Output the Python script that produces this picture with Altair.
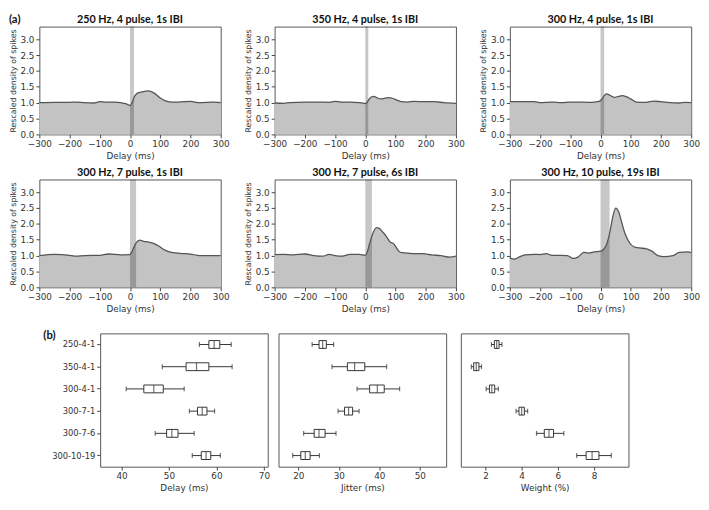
import altair as alt
import pandas as pd

# ---------------- data: panel (a) ----------------
TITLES = ["250 Hz, 4 pulse, 1s IBI", "350 Hz, 4 pulse, 1s IBI", "300 Hz, 4 pulse, 1s IBI",
          "300 Hz, 7 pulse, 1s IBI", "300 Hz, 7 pulse, 6s IBI", "300 Hz, 10 pulse, 19s IBI"]
BAND_END = [13, 10, 12, 20, 22, 30]

X1 = [-300, -250, -200, -180, -150, -120, -100, -80, -50, -30, -15, -5, 0, 5, 10, 15, 25, 40, 60, 80, 100, 120, 140, 160, 200, 230, 260, 280, 300]
Y1 = [1.00, 1.01, 1.01, 1.02, 1.00, 0.99, 1.03, 1.02, 1.02, 1.00, 0.97, 0.93, 0.91, 0.96, 1.08, 1.20, 1.30, 1.34, 1.37, 1.30, 1.15, 1.05, 1.02, 1.02, 1.04, 1.00, 1.01, 1.02, 1.00]

X2 = [-300, -270, -250, -200, -150, -120, -100, -80, -50, -20, -5, 0, 5, 12, 20, 28, 40, 50, 60, 75, 90, 105, 120, 140, 160, 200, 230, 260, 300]
Y2 = [0.99, 0.98, 1.00, 1.02, 1.02, 1.01, 1.04, 1.02, 1.02, 1.00, 0.98, 0.97, 1.00, 1.10, 1.18, 1.20, 1.15, 1.12, 1.13, 1.16, 1.14, 1.08, 1.03, 1.02, 1.04, 1.03, 1.03, 1.00, 0.98]

X3 = [-300, -250, -220, -200, -160, -130, -100, -70, -40, -20, -5, 0, 5, 12, 20, 30, 45, 60, 72, 85, 100, 120, 150, 175, 200, 230, 260, 280, 300]
Y3 = [1.03, 1.03, 1.03, 1.00, 1.02, 1.00, 1.02, 1.02, 1.01, 1.02, 1.04, 1.07, 1.12, 1.22, 1.28, 1.24, 1.17, 1.20, 1.22, 1.19, 1.12, 1.02, 1.01, 1.05, 1.03, 1.00, 0.99, 1.01, 1.00]

X4 = [-300, -250, -200, -180, -150, -100, -70, -30, -5, 0, 5, 12, 20, 32, 45, 60, 80, 95, 110, 130, 165, 200, 230, 260, 300]
Y4 = [1.00, 1.04, 1.01, 0.98, 1.00, 1.01, 1.05, 1.02, 1.03, 1.04, 1.10, 1.25, 1.40, 1.49, 1.45, 1.43, 1.38, 1.30, 1.20, 1.12, 1.07, 1.05, 1.00, 1.00, 1.00]

X5 = [-300, -270, -240, -200, -170, -140, -120, -100, -80, -50, -20, 0, 5, 15, 25, 37, 47, 60, 70, 80, 95, 110, 120, 140, 160, 190, 220, 250, 280, 300]
Y5 = [1.03, 1.04, 1.02, 1.05, 1.00, 0.98, 1.04, 1.00, 0.98, 1.04, 1.04, 1.01, 1.08, 1.40, 1.70, 1.88, 1.85, 1.72, 1.60, 1.45, 1.36, 1.15, 1.09, 1.08, 1.06, 1.06, 1.02, 1.00, 0.95, 0.98]

X6 = [-300, -285, -270, -250, -220, -200, -180, -160, -130, -110, -90, -75, -55, -40, -20, 0, 10, 20, 30, 40, 50, 60, 70, 80, 95, 110, 130, 150, 170, 190, 210, 240, 260, 290, 300]
Y6 = [0.93, 0.89, 0.95, 1.02, 1.04, 1.03, 1.06, 1.01, 1.01, 1.00, 0.91, 0.95, 1.10, 1.08, 1.12, 1.14, 1.20, 1.35, 1.70, 2.20, 2.50, 2.38, 2.05, 1.72, 1.42, 1.28, 1.24, 1.22, 1.14, 1.00, 0.97, 1.00, 1.10, 1.12, 1.09]

CURVES_X = [X1, X2, X3, X4, X5, X6]
CURVES_Y = [Y1, Y2, Y3, Y4, Y5, Y6]
A_XTICKS = [-300, -200, -100, 0, 100, 200, 300]
A_YTICKS = [0.0, 0.5, 1.0, 1.5, 2.0, 2.5, 3.0]

# ---------------- data: panel (b) ----------------
CONDS = ["250-4-1", "350-4-1", "300-4-1", "300-7-1", "300-7-6", "300-10-19"]
DELAY_LO = [56.4, 48.6, 41.0, 54.3, 47.1, 54.9]
DELAY_Q1 = [58.4, 53.6, 44.7, 56.0, 49.5, 56.8]
DELAY_MED = [59.5, 55.8, 46.8, 57.0, 50.6, 57.8]
DELAY_Q3 = [60.7, 58.4, 48.8, 58.0, 51.9, 58.8]
DELAY_HI = [63.1, 63.3, 53.2, 59.6, 55.3, 60.8]

JIT_LO = [23.4, 28.3, 34.5, 29.8, 21.3, 18.6]
JIT_Q1 = [25.1, 32.1, 37.6, 31.4, 23.9, 20.6]
JIT_MED = [26.0, 33.9, 39.5, 32.4, 25.1, 21.7]
JIT_Q3 = [26.9, 36.4, 41.2, 33.4, 26.6, 22.9]
JIT_HI = [28.7, 41.8, 45.0, 35.0, 29.3, 25.2]

W_LO = [2.33, 1.22, 2.04, 3.69, 4.82, 7.04]
W_Q1 = [2.49, 1.35, 2.22, 3.85, 5.25, 7.56]
W_MED = [2.62, 1.49, 2.35, 4.00, 5.51, 7.89]
W_Q3 = [2.75, 1.64, 2.51, 4.15, 5.76, 8.27]
W_HI = [2.91, 1.78, 2.71, 4.33, 6.33, 8.95]

INK = "#333333"
PW, PH = 185, 110
BH = 136


def label_text(txt, x, y, size=12, align="left"):
    return alt.Chart(pd.DataFrame({"t": [txt]})).mark_text(
        align=align, baseline="alphabetic", fontSize=size, fontWeight="bold", font="Lato", color="#111"
    ).encode(text="t:N", x=alt.value(x), y=alt.value(y))


def density_panel(i, label=None):
    df = pd.DataFrame({"delay": CURVES_X[i], "density": CURVES_Y[i]})
    band = pd.DataFrame({"delay": [0], "end": [BAND_END[i]]})
    xsc = alt.Scale(domain=[-300, 300], nice=False)
    ysc = alt.Scale(domain=[0, 3.4], nice=False)
    xax = alt.Axis(title="Delay (ms)", values=A_XTICKS, format="d", labelFlush=False, labelOverlap=False)
    yax = alt.Axis(title="Rescaled density of spikes", values=A_YTICKS, format=".1f",
                   titleFontSize=8, labelOverlap=False, titleOpacity=0 if i == 5 else 1)
    xenc = alt.X("delay:Q", scale=xsc, axis=xax)
    yenc = alt.Y("density:Q", scale=ysc, axis=yax)
    base = alt.Chart(df).encode(x=xenc, y=yenc)
    area = base.mark_area(color="#c3c3c3", interpolate="monotone")
    line = base.mark_line(color="#555555", strokeWidth=1.3, interpolate="monotone")
    rect = alt.Chart(band).mark_rect(color="black", opacity=0.22).encode(x=xenc, x2="end:Q")
    layers = [area, rect, line, label_text(TITLES[i], PW / 2, -4, 11, "center")]
    if label:
        layers.append(label_text(label, -31, -4, 11.5))
    return alt.layer(*layers).properties(width=PW, height=PH)


def box_panel(lo, q1, med, q3, hi, domain, ticks, xtitle, show_y, label=None):
    df = pd.DataFrame({"cond": CONDS, "lo": lo, "q1": q1, "med": med, "q3": q3, "hi": hi})
    ysc = alt.Scale(type="band", domain=CONDS, paddingInner=0, paddingOuter=0)
    yax = alt.Axis(title=None, labelOverlap=False, labelFontSize=8.5) if show_y else None
    xsc = alt.Scale(domain=domain, nice=False, zero=False)
    xax = alt.Axis(title=xtitle, values=ticks, labelFlush=False)
    yenc = alt.Y("cond:N", scale=ysc, axis=yax)
    base = alt.Chart(df)
    whisk = base.mark_rule(color=INK, strokeWidth=1).encode(
        x=alt.X("lo:Q", scale=xsc, axis=xax), x2="hi:Q", y=yenc)
    cap_lo = base.mark_tick(color=INK, size=5, thickness=1.2).encode(
        x=alt.X("lo:Q", scale=xsc, axis=xax), y=yenc)
    cap_hi = base.mark_tick(color=INK, size=5, thickness=1.2).encode(
        x=alt.X("hi:Q", scale=xsc, axis=xax), y=yenc)
    box = base.mark_bar(size=8, fill="white", stroke=INK, strokeWidth=1).encode(
        x=alt.X("q1:Q", scale=xsc, axis=xax), x2="q3:Q", y=yenc)
    medt = base.mark_tick(color=INK, size=8, thickness=1.2).encode(
        x=alt.X("med:Q", scale=xsc, axis=xax), y=yenc)
    layers = [whisk, cap_lo, cap_hi, box, medt]
    if label:
        layers.append(label_text(label, -58, 6, 11.5))
    return alt.layer(*layers).properties(width=171, height=BH)


row1 = alt.hconcat(density_panel(0, "(a)"), density_panel(1), density_panel(2), spacing=13)
row2 = alt.hconcat(density_panel(3), density_panel(4), density_panel(5), spacing=13)
rowa = alt.vconcat(row1, row2, spacing=5)

b1 = box_panel(DELAY_LO, DELAY_Q1, DELAY_MED, DELAY_Q3, DELAY_HI, [35.5, 70.8], [40, 50, 60, 70], "Delay (ms)", True, "(b)")
b2 = box_panel(JIT_LO, JIT_Q1, JIT_MED, JIT_Q3, JIT_HI, [15.1, 56.5], [20, 30, 40, 50], "Jitter (ms)", False)
b3 = box_panel(W_LO, W_Q1, W_MED, W_Q3, W_HI, [0.64, 9.9], [2, 4, 6, 8], "Weight (%)", False)
spacer = alt.Chart(pd.DataFrame({"v": [0]})).mark_point(opacity=0).encode(
    x=alt.value(0), y=alt.value(0)
).properties(width=1, height=BH, view=alt.ViewBackground(strokeOpacity=0))
rowb = alt.hconcat(spacer, alt.hconcat(alt.hconcat(b1, b2, spacing=7), b3, spacing=13), spacing=0)

chart = alt.vconcat(rowa, rowb, spacing=16).properties(padding=0).configure_view(
    stroke="#555555", strokeWidth=1
).configure_axis(
    domain=False, grid=False, tickColor="#444444", tickSize=3.5, tickWidth=1,
    labelColor=INK, labelFont="DejaVu Sans", labelFontSize=9, labelPadding=2,
    titleFont="DejaVu Sans", titleFontSize=9, titleFontWeight="normal", titleColor=INK, titlePadding=3
)

chart.save("out.html", embed_options={"renderer": "svg", "actions": False})
